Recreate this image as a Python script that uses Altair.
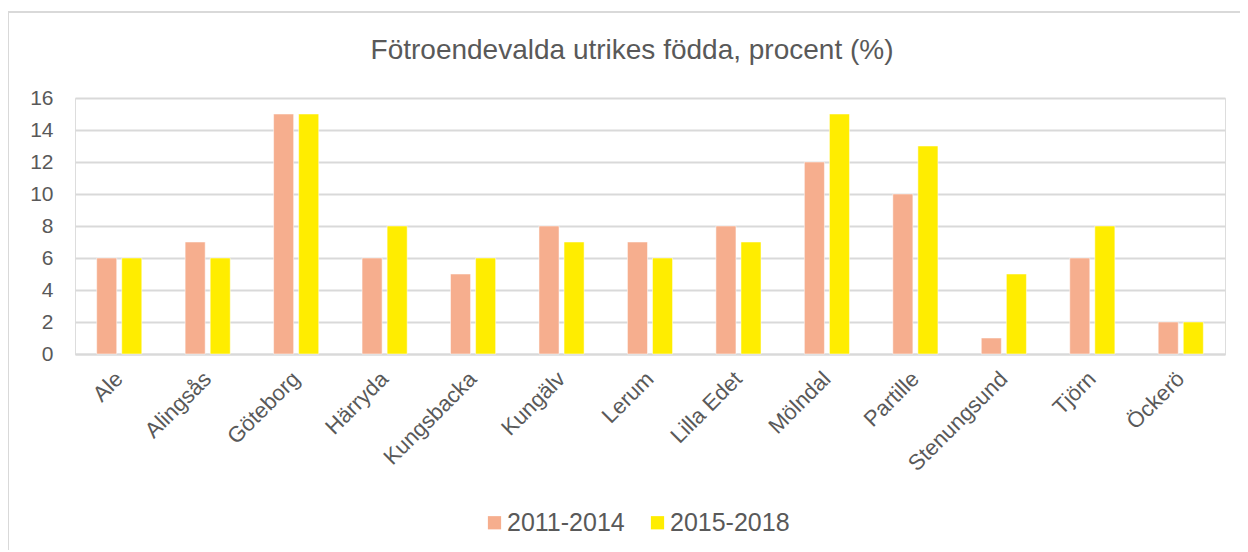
import altair as alt
import pandas as pd

kommuner = ["Ale", "Alingsås", "Göteborg", "Härryda", "Kungsbacka", "Kungälv", "Lerum",
            "Lilla Edet", "Mölndal", "Partille", "Stenungsund", "Tjörn", "Öckerö"]
p2011 = [6, 7, 15, 6, 5, 8, 7, 8, 12, 10, 1, 6, 2]
p2015 = [6, 6, 15, 8, 6, 7, 6, 7, 15, 13, 5, 8, 2]
perioder = ["2011-2014", "2015-2018"]
farger = ["#F6AE8E", "#FFED00"]
y_ticks = [0, 2, 4, 6, 8, 10, 12, 14, 16]

rows = []
for k, a, b in zip(kommuner, p2011, p2015):
    rows.append({"kommun": k, "period": perioder[0], "value": a})
    rows.append({"kommun": k, "period": perioder[1], "value": b})
df = pd.DataFrame(rows)

FONT = "Liberation Sans"
TXT = "#595959"
GRID = "#D9D9D9"

bars = alt.Chart(df).mark_bar(stroke="white", strokeWidth=0.5).encode(
    x=alt.X("kommun:N", sort=kommuner, title=None,
            scale=alt.Scale(paddingInner=0.49, paddingOuter=0.245),
            axis=alt.Axis(labelAngle=-45, labelAlign="right", labelBaseline="middle",
                          labelPadding=21, ticks=False, domainColor=GRID, domainWidth=2,
                          labelFontSize=22, labelColor=TXT, labelFont=FONT)),
    xOffset=alt.XOffset("period:N", sort=perioder,
                        scale=alt.Scale(paddingInner=0.2, paddingOuter=0)),
    y=alt.Y("value:Q", title=None, scale=alt.Scale(domain=[0, 16], nice=False),
            axis=alt.Axis(values=y_ticks, domain=False, ticks=False, gridColor=GRID,
                          gridWidth=2, labelPadding=22, labelFontSize=21,
                          labelColor=TXT, labelFont=FONT)),
    color=alt.Color("period:N", sort=perioder,
                    scale=alt.Scale(domain=perioder, range=farger),
                    legend=alt.Legend(title=None, orient="none", legendX=407, legendY=412,
                                      direction="horizontal", symbolType="square",
                                      symbolSize=175, symbolStrokeWidth=0, labelFontSize=25,
                                      labelColor=TXT, labelFont=FONT, labelOffset=0,
                                      columnPadding=20)),
)

frame_df = pd.DataFrame({"k": [0]})
top_border = alt.Chart(frame_df).mark_rule(color=GRID, strokeWidth=2).encode(
    x=alt.value(-67), x2=alt.value(1180), y=alt.value(-86))
left_border = alt.Chart(frame_df).mark_rule(color=GRID, strokeWidth=2).encode(
    x=alt.value(-67), y=alt.value(-86), y2=alt.value(460))

chart = alt.layer(top_border, left_border, bars).properties(
    width=1150, height=256,
    title=alt.TitleParams("Fötroendevalda utrikes födda, procent (%)", fontSize=28,
                          font=FONT, color=TXT, fontWeight="normal", anchor="middle",
                          dx=-18, offset=-54),
    padding={"left": 67, "top": 90, "right": 15, "bottom": 196},
    autosize=alt.AutoSizeParams(type="none"),
).configure_view(stroke=None).configure(background="white")

chart.save("out.html", embed_options={"renderer": "svg", "actions": False})
